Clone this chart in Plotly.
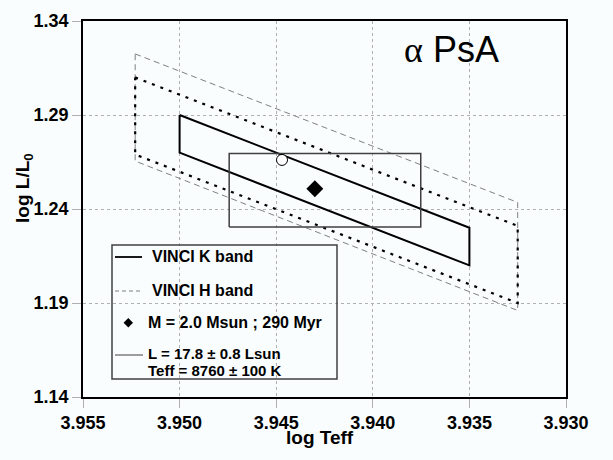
import math
import plotly.graph_objects as go

# ---- data ----
k_band_teff = [3.950, 3.935, 3.935, 3.950, 3.950]
k_band_lum = [1.290, 1.230, 1.210, 1.270, 1.290]

h_band_teff = [3.9523, 3.9325, 3.9325, 3.9523, 3.9523]
h_band_lum = [1.3225, 1.2435, 1.1860, 1.2655, 1.3225]

h_inner_teff = [3.9523, 3.9325, 3.9325, 3.9523, 3.9523]
h_inner_lum = [1.3100, 1.2310, 1.1900, 1.2690, 1.3100]

model_teff = [3.9430]
model_lum = [1.2508]

circle_teff = [3.9447]
circle_lum = [1.2661]

L_value, L_err = 17.8, 0.8
Teff_value, Teff_err = 8760, 100

x_ticks = [3.955, 3.950, 3.945, 3.940, 3.935, 3.930]
y_ticks = [1.14, 1.19, 1.24, 1.29, 1.34]

legend_labels = ["VINCI K band", "VINCI H band", "M = 2.0 Msun ; 290 Myr",
                 "L = 17.8 ± 0.8 Lsun", "Teff = 8760 ± 100 K"]

# error box from L and Teff
box_x = [math.log10(Teff_value + Teff_err), math.log10(Teff_value - Teff_err)]
box_y = [math.log10(L_value - L_err), math.log10(L_value + L_err)]
rect_teff = [box_x[0], box_x[1], box_x[1], box_x[0], box_x[0]]
rect_lum = [box_y[0], box_y[0], box_y[1], box_y[1], box_y[0]]

# ---- layout geometry (pixels) ----
W, H = 613, 460
L, R, T, B = 83, 566, 21, 397

def px(x):
    return (x - L) / (R - L)

def py(y):
    return (B - y) / (B - T)

fig = go.Figure()
fig.add_trace(go.Scatter(x=h_band_teff, y=h_band_lum, mode="lines",
                         line=dict(color="#808080", width=1, dash="6px,4px"), showlegend=False))
fig.add_trace(go.Scatter(x=h_inner_teff, y=h_inner_lum, mode="lines",
                         line=dict(color="black", width=2.2, dash="3px,6px"), showlegend=False))
fig.add_trace(go.Scatter(x=k_band_teff, y=k_band_lum, mode="lines",
                         line=dict(color="black", width=2), showlegend=False))
fig.add_trace(go.Scatter(x=rect_teff, y=rect_lum, mode="lines",
                         line=dict(color="#404040", width=1.5), showlegend=False))
fig.add_trace(go.Scatter(x=circle_teff, y=circle_lum, mode="markers",
                         marker=dict(symbol="circle", size=11, color="white",
                                     line=dict(color="black", width=1)), showlegend=False))
fig.add_trace(go.Scatter(x=model_teff, y=model_lum, mode="markers",
                         marker=dict(symbol="diamond", size=13, color="black"), showlegend=False))

tickf = dict(family="Liberation Sans", size=18, color="black")

fig.update_xaxes(range=[x_ticks[0], x_ticks[-1]], tickvals=x_ticks,
                 ticktext=[f"<b>{v:.3f}</b>" for v in x_ticks], tickfont=tickf,
                 showgrid=True, gridcolor="#b0b0b0", griddash="dot", gridwidth=1,
                 ticks="outside", ticklen=9, tickcolor="#b0b0b0",
                 showline=True, linecolor="black", linewidth=1.5, mirror=True,
                 zeroline=False)
fig.update_yaxes(range=[y_ticks[0], y_ticks[-1]], tickvals=y_ticks,
                 ticktext=[f"<b>{v:.2f}</b>" for v in y_ticks], tickfont=tickf,
                 showgrid=True, gridcolor="#b0b0b0", griddash="dot", gridwidth=1,
                 ticks="outside", ticklen=9, tickcolor="#b0b0b0",
                 showline=True, linecolor="black", linewidth=1.5, mirror=True,
                 zeroline=False)

shapes = []
annotations = []
# legend box
shapes.append(dict(type="rect", xref="paper", yref="paper",
                   x0=px(112), x1=px(337), y0=py(379), y1=py(245),
                   line=dict(color="#404040", width=1.5), fillcolor="rgba(0,0,0,0)"))
leg_font = dict(family="Liberation Sans", size=16, color="black")
# K band entry
shapes.append(dict(type="line", xref="paper", yref="paper",
                   x0=px(115), x1=px(142), y0=py(257), y1=py(257),
                   line=dict(color="black", width=1.8)))
annotations.append(dict(x=px(150), y=py(256), xref="paper", yref="paper",
                        text=f"<b>{legend_labels[0]}</b>", showarrow=False, xanchor="left",
                        yanchor="middle", font=leg_font))
# H band entry
shapes.append(dict(type="line", xref="paper", yref="paper",
                   x0=px(115), x1=px(142), y0=py(291), y1=py(291),
                   line=dict(color="#808080", width=1, dash="4px,3px")))
annotations.append(dict(x=px(150), y=py(290), xref="paper", yref="paper",
                        text=f"<b>{legend_labels[1]}</b>", showarrow=False, xanchor="left",
                        yanchor="middle", font=leg_font))
# model entry (diamond)
shapes.append(dict(type="path", xref="paper", yref="paper",
                   path=f"M {px(128.3)} {py(318)} L {px(133)} {py(322.7)} L {px(128.3)} {py(327.4)} L {px(123.6)} {py(322.7)} Z",
                   fillcolor="black", line=dict(color="black", width=0)))
annotations.append(dict(x=px(145.5), y=py(322), xref="paper", yref="paper",
                        text=f"<b>{legend_labels[2]}</b>", showarrow=False, xanchor="left",
                        yanchor="middle", font=leg_font))
# L/Teff entry
shapes.append(dict(type="line", xref="paper", yref="paper",
                   x0=px(115), x1=px(143), y0=py(355), y1=py(355),
                   line=dict(color="#404040", width=1)))
annotations.append(dict(x=px(145.5), y=py(353), xref="paper", yref="paper",
                        text=f"<b>{legend_labels[3]}</b>", showarrow=False, xanchor="left",
                        yanchor="middle", font=dict(leg_font, size=15)))
annotations.append(dict(x=px(145.5), y=py(370), xref="paper", yref="paper",
                        text=f"<b>{legend_labels[4]}</b>", showarrow=False, xanchor="left",
                        yanchor="middle", font=dict(leg_font, size=15)))

# title inside
annotations.append(dict(x=px(402), y=py(49), xref="paper", yref="paper",
                        text="<span style='font-family:Liberation Serif'>α</span> PsA",
                        showarrow=False, xanchor="left", yanchor="middle",
                        font=dict(family="Liberation Sans", size=36, color="black")))
# axis titles
annotations.append(dict(x=px(320), y=py(437), xref="paper", yref="paper",
                        text="<b>log Teff</b>", showarrow=False, xanchor="center", yanchor="middle",
                        font=dict(family="Liberation Sans", size=19, color="black")))
annotations.append(dict(x=px(24), y=py(188), xref="paper", yref="paper",
                        text="<b>log L/L<sub>0</sub></b>", showarrow=False, xanchor="center",
                        yanchor="middle", textangle=-90,
                        font=dict(family="Liberation Sans", size=19, color="black")))

fig.update_layout(width=W, height=H, margin=dict(l=L, r=W - R, t=T, b=H - B, pad=0),
                  paper_bgcolor="#f9fdfd", plot_bgcolor="#f9fdfd",
                  shapes=shapes, annotations=annotations, showlegend=False)

fig.write_html("out.html")
